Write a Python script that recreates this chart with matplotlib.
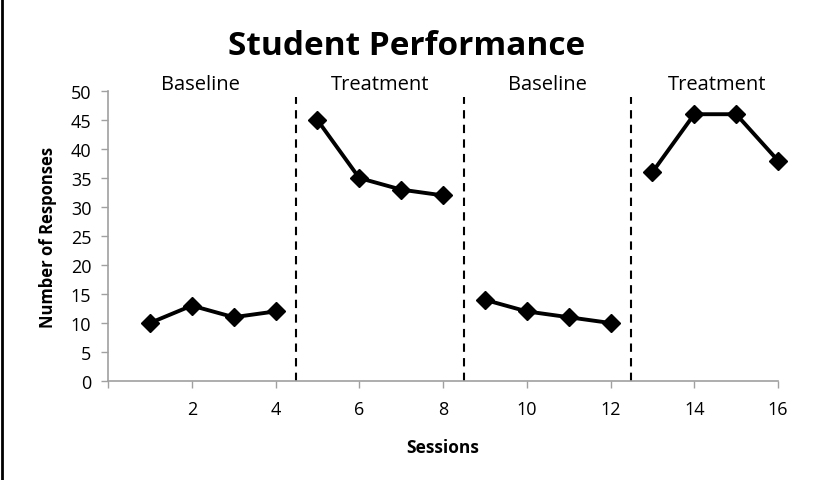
import matplotlib
matplotlib.use("Agg")
import matplotlib.pyplot as plt
from matplotlib.lines import Line2D

# data
sessions = list(range(1, 17))
responses = [10, 13, 11, 12, 45, 35, 33, 32, 14, 12, 11, 10, 36, 46, 46, 38]
phase_names = ["Baseline", "Treatment", "Baseline", "Treatment"]
phase_len = 4
phase_label_x = [2.2, 6.5, 10.5, 14.55]
phase_breaks = [4.5, 8.5, 12.5]

plt.rcParams['font.family'] = ['Open Sans', 'DejaVu Sans']

fig = plt.figure(figsize=(8.14, 4.81), dpi=100)
ax = fig.add_axes([0.1327, 0.2058, 0.8231, 0.6029])

# one line per phase, gaps between them
for i in range(len(phase_names)):
    xs = sessions[i * phase_len:(i + 1) * phase_len]
    ys = responses[i * phase_len:(i + 1) * phase_len]
    ax.plot(xs, ys, color='black', lw=2.8, marker='D', ms=9.5, clip_on=False)

for b in phase_breaks:
    ax.axvline(b, ymin=0, ymax=0.98, color='black', ls=(0, (4, 3)), lw=1.5)

for name, x in zip(phase_names, phase_label_x):
    ax.text(x, 50.3, name, ha='center', va='baseline', fontsize=14.5)

ax.set_xlim(0, 16)
ax.set_ylim(0, 50)
ax.set_yticks(range(0, 51, 5))
ax.set_xticks(range(0, 17, 2))
ax.set_xticklabels([''] + [str(v) for v in range(2, 17, 2)])
ax.tick_params(colors='#a0a0a0', labelcolor='black', labelsize=13, length=5, width=1)
ax.tick_params(axis='x', pad=9)
ax.tick_params(axis='y', pad=7)

for s in ['top', 'right']:
    ax.spines[s].set_visible(False)
for s in ['left', 'bottom']:
    ax.spines[s].set_color('#a0a0a0')
    ax.spines[s].set_linewidth(1.2)

ax.set_xlabel('Sessions', fontsize=12.5, fontweight='bold', labelpad=14)
ax.set_ylabel('Number of Responses', fontsize=12, fontweight='bold', labelpad=10)

fig.text(0.5, 0.886, 'Student Performance', ha='center', va='baseline',
         fontsize=24, fontweight='bold')

# border line on the left edge of the picture
fig.add_artist(Line2D([0.002, 0.002], [0, 1], transform=fig.transFigure, color='black', lw=2))

fig.savefig('out.png', dpi=100)
